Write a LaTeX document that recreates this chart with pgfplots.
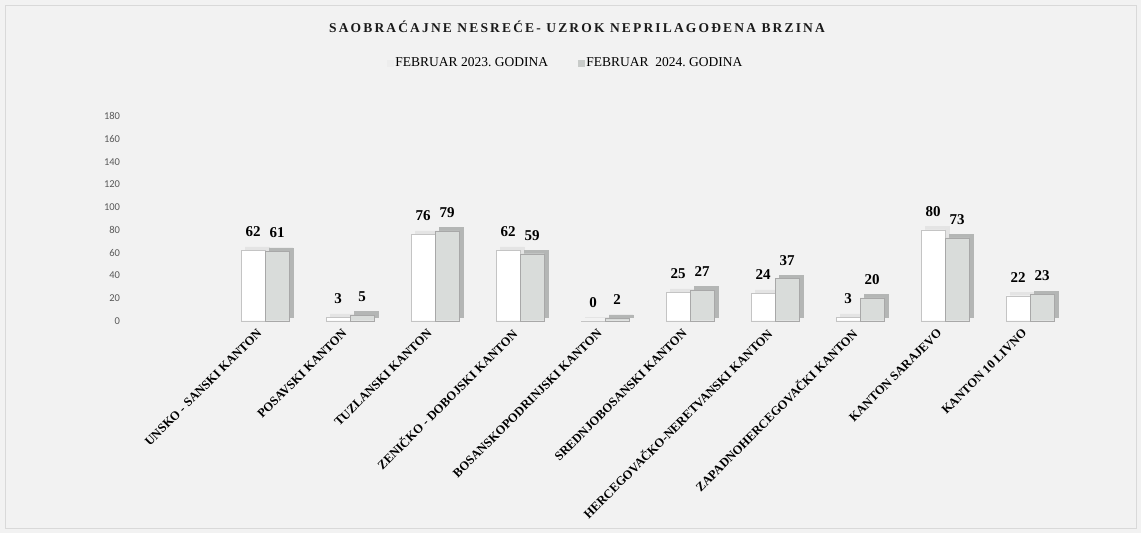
\documentclass[border=0pt]{standalone}
\usepackage{pgfplots}
\pgfplotsset{compat=1.18}
\usepackage{fontspec}
\setmainfont{Liberation Serif}
\newfontfamily\tickfont{Carlito}
\newfontfamily\titlefont[LetterSpace=16]{Liberation Serif}
\definecolor{bg}{HTML}{F2F2F2}
\definecolor{framec}{HTML}{D9D9D9}
\definecolor{titlec}{HTML}{1A1A1A}
\definecolor{tickc}{HTML}{595959}
\definecolor{barA}{HTML}{FFFFFF}
\definecolor{barAedge}{HTML}{C4C4C4}
\definecolor{barAback}{HTML}{E4E4E4}
\definecolor{barB}{HTML}{D9DCDA}
\definecolor{barBedge}{HTML}{A8A8A8}
\definecolor{barBback}{HTML}{B4B6B5}
\definecolor{legA}{HTML}{EDEDED}
\definecolor{legB}{HTML}{C8CBC9}
\frenchspacing
\pgfplotstableread{
x a b
0 62 61
1 3 5
2 76 79
3 62 59
4 0 2
5 25 27
6 24 37
7 3 20
8 80 73
9 22 23
}\datatable
\begin{document}
\begin{tikzpicture}[x=1pt,y=1pt]
\fill[bg] (0,0) rectangle (1141,533);
\useasboundingbox (0,0) rectangle (1141,533);
\draw[framec, line width=0.8pt] (5,5) rectangle (1136,528);
\node[font=\titlefont\bfseries\fontsize{13.5}{15}\selectfont, text=titlec] at (577,506) {SAOBRAĆAJNE NESREĆE- UZROK NEPRILAGOĐENA BRZINA};
\begin{axis}[
  at={(137.5pt,212.3pt)}, anchor=south west,
  scale only axis, width=935pt, height=204.4pt,
  xmin=-1.5, xmax=9.5, ymin=0, ymax=180,
  ybar, bar width=24pt,
  axis line style={draw=none},
  major tick length=0pt,
  clip=false,
  ytick={0,20,...,180},
  yticklabel style={font=\tickfont\fontsize{10.5}{12}\selectfont, text=tickc, xshift=-14pt,
    /pgf/number format/assume math mode=true},
  xtick={0,...,9},
  xticklabels={UNSKO - SANSKI KANTON, POSAVSKI KANTON, TUZLANSKI KANTON, ZENIČKO - DOBOJSKI KANTON, BOSANSKOPODRINJSKI KANTON, SREDNJOBOSANSKI KANTON, HERCEGOVAČKO-NERETVANSKI KANTON, ZAPADNOHERCEGOVAČKI KANTON, KANTON SARAJEVO, KANTON 10 LIVNO},
  xticklabel style={xshift=-3pt, yshift=-8pt, rotate=45, anchor=east, font=\bfseries\fontsize{12.5}{14}\selectfont},
  every node near coord/.append style={font=\bfseries\fontsize{15}{17}\selectfont, text=black, yshift=10pt},
  legend style={at={(axis description cs:0.458,1.26)}, anchor=center, draw=none, fill=none,
    legend columns=2, font=\fontsize{13.5}{15}\selectfont,
    /tikz/every even column/.append style={column sep=28pt}},
]
% depth faces (3D look)
\addplot[forget plot, fill=barAback, draw=barAback, bar shift=-8pt, yshift=3.5pt] table[x=x,y=a] {\datatable};
\addplot[forget plot, fill=barBback, draw=barBback, bar shift=16pt, yshift=3.5pt] table[x=x,y=b] {\datatable};
% front faces
\addplot[fill=barA, draw=barAedge, bar shift=-12pt,
  nodes near coords={\pgfmathprintnumber[assume math mode=true]{\pgfplotspointmeta}},
  legend image code/.code={\fill[legA] (0pt,-3pt) rectangle (6pt,3pt);}] table[x=x,y=a] {\datatable};
\addplot[fill=barB, draw=barBedge, bar shift=12pt,
  nodes near coords={\pgfmathprintnumber[assume math mode=true]{\pgfplotspointmeta}},
  legend image code/.code={\fill[legB] (0pt,-3pt) rectangle (6pt,3pt);}] table[x=x,y=b] {\datatable};
\legend{FEBRUAR 2023. GODINA, FEBRUAR\ \ 2024. GODINA}
\end{axis}
\end{tikzpicture}
\end{document}
